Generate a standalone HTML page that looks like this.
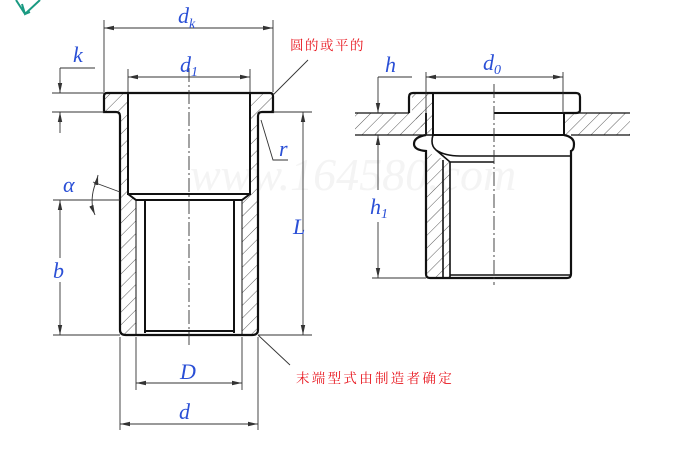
<!DOCTYPE html>
<html><head><meta charset="utf-8"><style>
html,body{margin:0;padding:0;background:#fff;}
svg{display:block}
.lbl{font-family:"Liberation Serif",serif;font-style:italic;fill:#2a4fd6;font-size:22px}
.red{font-family:"Liberation Serif","Noto Serif CJK SC",serif;fill:#e8141c;font-size:13.5px}
</style></head><body>
<svg width="690" height="471" viewBox="0 0 690 471" xmlns="http://www.w3.org/2000/svg">
<defs>
<pattern id="h" width="9" height="9" patternUnits="userSpaceOnUse" patternTransform="rotate(45)">
<line x1="0" y1="0" x2="0" y2="9" stroke="#333" stroke-width="0.8"/></pattern>
<marker id="a" markerWidth="10" markerHeight="6" refX="10" refY="3" orient="auto-start-reverse" markerUnits="userSpaceOnUse">
<path d="M0,0.8 L10,3 L0,5.2z" fill="#333"/></marker>
</defs>
<path d="M16,0 L25,14 L40,0 M22,4 L25,14 L30,12" fill="none" stroke="#1a9a82" stroke-width="2"/>
<text x="190" y="190" font-family="Liberation Serif" font-style="italic" font-size="46" fill="#f4f4f4">www.164580.com</text>

<g stroke="#111" fill="none">
<path d="M104,96 Q104,93 107,93 L128,93 L128,195 L136,200 L136,335 L124,335 Q120,335 120,331 L120,116 Q120,112 116,112 L104,112 Z" fill="url(#h)" stroke="none"/>
<path d="M250,93 L270,93 Q273,93 273,96 L273,112 L262,112 Q258,112 258,116 L258,331 Q258,335 254,335 L242,335 L242,200 L250,195 Z" fill="url(#h)" stroke="none"/>
<path d="M104,96 Q104,93 107,93 L270,93 Q273,93 273,96 L273,112 L262,112 Q258,112 258,116 L258,330 Q258,335 252,335 L126,335 Q120,335 120,330 L120,116 Q120,112 116,112 L104,112 Z" stroke-width="2.2"/>
<path d="M128,93 L128,194 L250,194 L250,93" stroke-width="2"/>
<path d="M128,194 L136,200 L145,200 L145,333 M250,194 L242,200 L234,200 L234,333 M136,200 L242,200 M145,331 L234,331" stroke-width="2"/>
<path d="M136,200 L136,335 M242,200 L242,335" stroke-width="1"/>
</g>
<g stroke="#333" stroke-width="0.9" fill="none">
<path d="M189,68 L189,345" stroke-dasharray="14,3,2,3"/>
<path d="M104,92 L104,20 M273,92 L273,20"/>
<path d="M104,28 L273,28" marker-start="url(#a)" marker-end="url(#a)"/>
<path d="M128,92 L128,69 M250,92 L250,69"/>
<path d="M128,77 L250,77" marker-start="url(#a)" marker-end="url(#a)"/>
<path d="M52,93 L104,93 M52,112 L104,112 M60,68 L95,68 M60,68 L60,93 M60,112 L60,133"/>
<path d="M60,80 L60,93" marker-end="url(#a)"/><path d="M60,124 L60,112" marker-end="url(#a)"/>
<path d="M273,112 L312,112 M258,335 L312,335"/>
<path d="M303,140 L303,112" marker-end="url(#a)"/><path d="M303,240 L303,140"/>
<path d="M303,305 L303,335" marker-end="url(#a)"/><path d="M303,240 L303,305"/>
<path d="M53,200 L120,200 M53,335 L120,335"/>
<path d="M60,230 L60,200" marker-end="url(#a)"/><path d="M60,230 L60,258"/>
<path d="M60,305 L60,335" marker-end="url(#a)"/><path d="M60,282 L60,305"/>
<path d="M136,337 L136,390 M242,337 L242,390"/>
<path d="M136,383 L242,383" marker-start="url(#a)" marker-end="url(#a)"/>
<path d="M120,337 L120,430 M258,337 L258,430"/>
<path d="M120,424 L258,424" marker-start="url(#a)" marker-end="url(#a)"/>
<path d="M93,182 L120,192"/>
<path d="M97,180 Q90,195 93,210" />
<path d="M97,180 L98,175" marker-end="url(#a)"/><path d="M93,210 L95,215" marker-end="url(#a)"/>
<path d="M261,120 L273,160 L288,160"/>
<path d="M273,95 L308,60"/>
<path d="M258,335 L290,365"/>
</g>
<text class="lbl" x="178" y="23">d<tspan font-size="14" dy="5">k</tspan></text>
<text class="lbl" x="180" y="72">d<tspan font-size="14" dy="4">1</tspan></text>
<text class="lbl" x="73" y="62">k</text>
<text class="lbl" x="279" y="156">r</text>
<text class="lbl" x="293" y="234">L</text>
<text class="lbl" x="53" y="278">b</text>
<text class="lbl" x="63" y="192">α</text>
<text class="lbl" x="180" y="379">D</text>
<text class="lbl" x="179" y="419">d</text>
<text class="red" x="290" y="50" letter-spacing="1.5">圆的或平的</text>
<text class="red" x="296" y="383" letter-spacing="2.3">末端型式由制造者确定</text>

<g stroke="#111" fill="none">
<path d="M355,113 L426,113 L426,135 L355,135 Z" fill="url(#h)" stroke="none"/>
<path d="M564,113 L630,113 L630,135 L564,135 Z" fill="url(#h)" stroke="none"/>
<path d="M412,113 L412,96 Q412,93 415,93 L433,93 L433,135 L426,135 Z" fill="url(#h)" stroke="none"/>
<path d="M426,150 L433,155 L450,162 L450,278 L429,278 L426,275 Z" fill="url(#h)" stroke="none"/>
<path d="M355,113 L409,113 M355,135 L426,135 M571,113 L630,113 M571,135 L630,135" stroke-width="1.3"/>
<path d="M409,113 L409,97 Q409,93 413,93 L576,93 Q580,93 580,97 L580,110 Q580,113 576,113 L564,113" stroke-width="2.2"/>
<path d="M433,93 L433,135 M426,113 L426,135 M433,135 L564,135 L564,113 M494,113 L564,113" stroke-width="2"/>
<path d="M426,135 Q414,137 414,144 Q414,150 426,151 L426,274 Q426,278 430,278 L567,278 Q571,278 571,274 L571,151 Q574,150 574,144 Q574,137 564,135" stroke-width="2.2"/>
<path d="M426,135 L433,135 Q430,145 436,150 Q445,156 460,156 L571,156 M436,150 L450,162 L494,162 M450,162 L450,278 M443,160 L443,278 M450,275 L571,275" stroke-width="1.6"/>
</g>
<g stroke="#333" stroke-width="0.9" fill="none">
<path d="M494,84 L494,285" stroke-dasharray="14,3,2,3"/>
<path d="M426,72 L426,135 M563,72 L563,113"/>
<path d="M426,77 L563,77" marker-start="url(#a)" marker-end="url(#a)"/>
<path d="M378,77 L412,77 M378,77 L378,113 M372,278 L426,278"/>
<path d="M378,100 L378,113" marker-end="url(#a)"/>
<path d="M378,150 L378,135" marker-end="url(#a)"/><path d="M378,150 L378,190"/>
<path d="M378,262 L378,278" marker-end="url(#a)"/><path d="M378,222 L378,262"/>
</g>
<text class="lbl" x="385" y="72">h</text>
<text class="lbl" x="483" y="70">d<tspan font-size="14" dy="4">0</tspan></text>
<text class="lbl" x="370" y="214">h<tspan font-size="14" dy="4">1</tspan></text>
</svg>
</body></html>
